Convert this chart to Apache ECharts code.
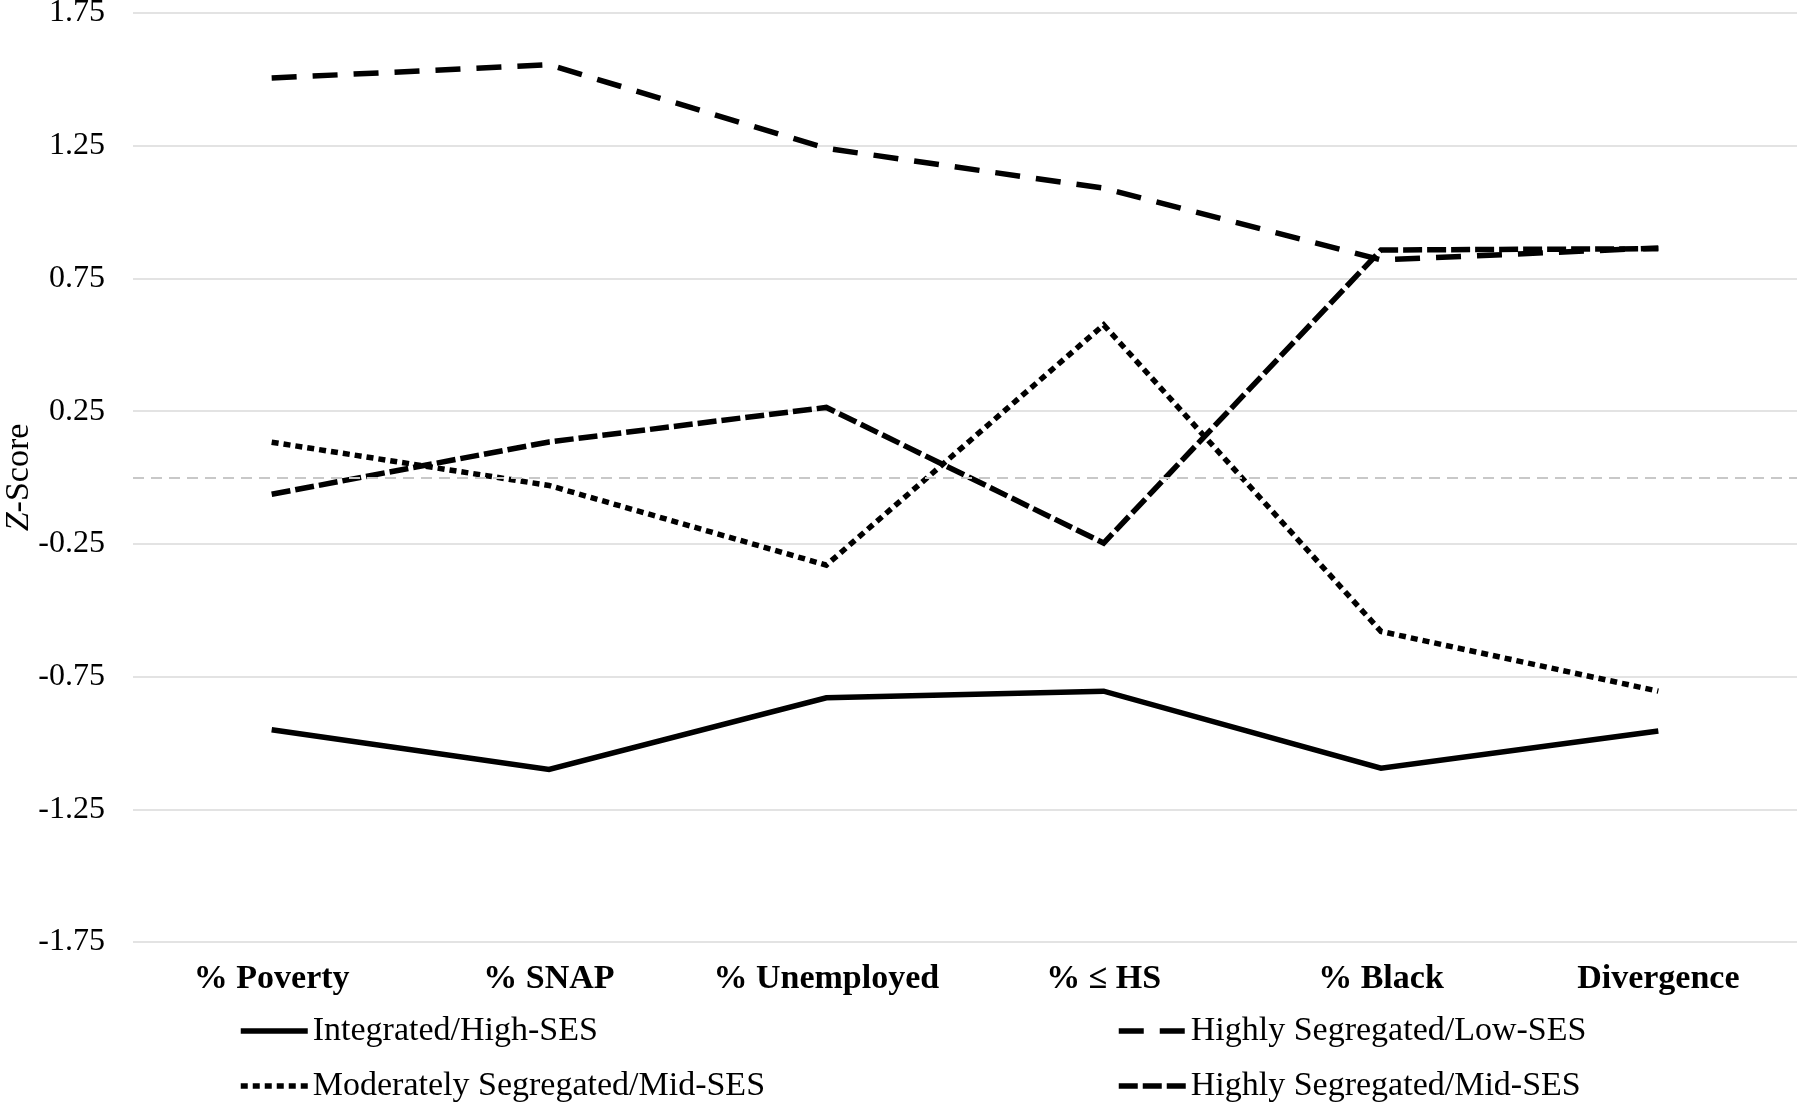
<!DOCTYPE html>
<html>
<head>
<meta charset="utf-8">
<script src="https://cdn.jsdelivr.net/npm/echarts@6/dist/echarts.min.js"></script>
<style>
html,body{margin:0;padding:0;background:#fff;}
#chart{width:1800px;height:1108px;}
</style>
</head>
<body>
<div id="chart"></div>
<script>
const categories = ['% Poverty', '% SNAP', '% Unemployed', '% \u2264 HS', '% Black', 'Divergence'];
const integratedHigh = [-0.95, -1.10, -0.83, -0.805, -1.095, -0.955];
const highlyLow = [1.505, 1.555, 1.24, 1.09, 0.82, 0.865];
const moderatelyMid = [0.133, -0.03, -0.33, 0.575, -0.58, -0.805];
const highlyMid = [-0.063, 0.134, 0.264, -0.247, 0.857, 0.862];
const yTicks = [-1.75, -1.25, -0.75, -0.25, 0.25, 0.75, 1.25, 1.75];

const serif = '"Liberation Serif", "Times New Roman", serif';
const chart = echarts.init(document.getElementById('chart'));

function lineSeries(name, data, dash) {
  return {
    name: name,
    type: 'line',
    data: data,
    symbol: 'none',
    silent: true,
    animation: false,
    color: '#000',
    itemStyle: { color: '#000' },
    lineStyle: { color: '#000', width: 5.5, type: dash, cap: 'butt', join: 'miter' }
  };
}

const series = [
  lineSeries('Integrated/High-SES', integratedHigh, 'solid'),
  lineSeries('Highly Segregated/Low-SES', highlyLow, [25, 16]),
  lineSeries('Moderately Segregated/Mid-SES', moderatelyMid, [7, 5]),
  lineSeries('Highly Segregated/Mid-SES', highlyMid, [19, 5])
];
series[0].markLine = {
  silent: true,
  symbol: 'none',
  label: { show: false },
  lineStyle: { color: '#c8c8c8', width: 2, type: [11, 7] },
  data: [{ yAxis: 0 }],
  animation: false
};

const legendCommon = {
  orient: 'vertical',
  itemWidth: 67,
  itemHeight: 20,
  itemGap: 21,
  padding: 0,
  selectedMode: false,
  itemStyle: { opacity: 0 },
  lineStyle: { width: 5.5 },
  textStyle: { fontFamily: serif, fontSize: 34, color: '#000', lineHeight: 34 }
};

chart.setOption({
  backgroundColor: '#fff',
  animation: false,
  grid: { left: 133, right: 3, top: 13, bottom: 166, containLabel: false, outerBoundsMode: 'none' },
  legend: [
    Object.assign({}, legendCommon, { left: 238, top: 1014, data: ['Integrated/High-SES', 'Moderately Segregated/Mid-SES'] }),
    Object.assign({}, legendCommon, { left: 1116, top: 1014, data: ['Highly Segregated/Low-SES', 'Highly Segregated/Mid-SES'] })
  ],
  xAxis: {
    type: 'category',
    data: categories,
    boundaryGap: true,
    axisLine: { show: false },
    axisTick: { show: false },
    axisLabel: { interval: 0, fontFamily: serif, fontWeight: 'bold', fontSize: 34, color: '#000', margin: 20 }
  },
  yAxis: {
    type: 'value',
    min: yTicks[0],
    max: yTicks[yTicks.length - 1],
    interval: 0.5,
    name: '{i|Z}-Score',
    nameLocation: 'middle',
    nameGap: 97,
    nameMoveOverlap: false,
    nameTextStyle: {
      fontFamily: serif, fontSize: 34, color: '#000',
      rich: { i: { fontFamily: serif, fontSize: 34, fontStyle: 'italic', color: '#000' } }
    },
    axisLine: { show: false },
    axisTick: { show: false },
    splitLine: { show: true, lineStyle: { color: '#e3e3e3', width: 2 } },
    axisLabel: {
      fontFamily: serif, fontSize: 32, color: '#000', margin: 28,
      formatter: function (v) { return v.toFixed(2); }
    }
  },
  series: series
});
</script>
</body>
</html>
